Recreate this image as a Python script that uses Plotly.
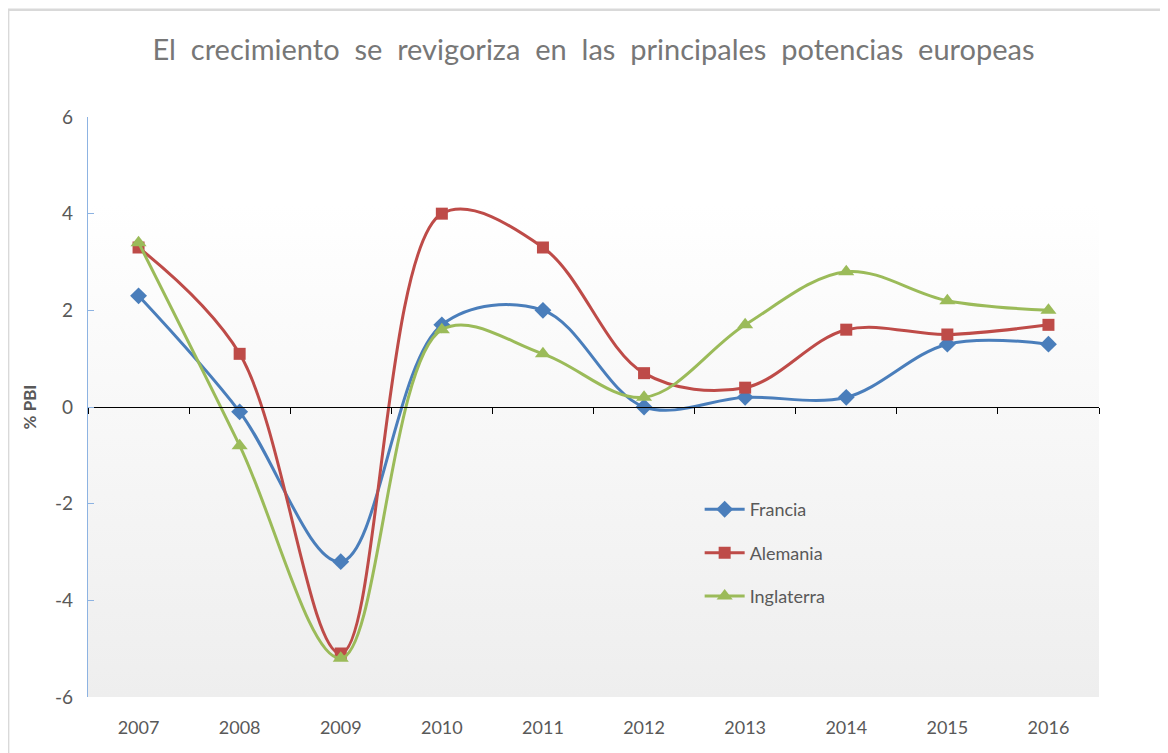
import base64
import plotly.graph_objects as go

years = ["2007", "2008", "2009", "2010", "2011", "2012", "2013", "2014", "2015", "2016"]
francia = [2.3, -0.1, -3.2, 1.7, 2.0, 0.0, 0.2, 0.2, 1.3, 1.3]
alemania = [3.3, 1.1, -5.1, 4.0, 3.3, 0.7, 0.4, 1.6, 1.5, 1.7]
inglaterra = [3.4, -0.8, -5.2, 1.6, 1.1, 0.2, 1.7, 2.8, 2.2, 2.0]

title_words = ["El", "crecimiento", "se", "revigoriza", "en", "las", "principales", "potencias", "europeas"]
y_title = "% PBI"
y_ticks = [-6, -4, -2, 0, 2, 4, 6]

series = [
    ("Francia", francia, "#4A7EBB", "diamond", 13),
    ("Alemania", alemania, "#BE4B48", "square", 12),
    ("Inglaterra", inglaterra, "#9BBB59", "triangle-up", 14),
]

FONT = "Lato, 'Open Sans', sans-serif"
GRAY = "#595959"

fig = go.Figure()
for name, vals, color, sym, size in series:
    fig.add_trace(go.Scatter(
        x=years, y=vals, name=name, mode="lines+markers",
        line=dict(color=color, width=3, shape="spline", smoothing=1.0),
        marker=dict(symbol=sym, size=size, color=color),
        legendgroup=name,
    ))

# dummy trace to materialise the zero-level axis carrying the tick marks
fig.add_trace(go.Scatter(x=[], y=[], xaxis="x2", showlegend=False, hoverinfo="skip"))

svg = (
    '<svg xmlns="http://www.w3.org/2000/svg" width="100" height="100" preserveAspectRatio="none">'
    '<defs><linearGradient id="g" x1="0" y1="0" x2="0" y2="1">'
    '<stop offset="0" stop-color="#FFFFFF"/>'
    '<stop offset="0.15" stop-color="#FFFFFF"/>'
    '<stop offset="1" stop-color="#EEEEEE"/>'
    '</linearGradient></defs>'
    '<rect width="100" height="100" fill="url(#g)"/></svg>'
)
svg_uri = "data:image/svg+xml;base64," + base64.b64encode(svg.encode()).decode()

n = len(years)
fig.update_layout(
    width=1168, height=753,
    margin=dict(l=80, r=77, t=109, b=64),
    paper_bgcolor="white",
    plot_bgcolor="rgba(0,0,0,0)",
    font=dict(family=FONT, color=GRAY),
    title=dict(
        text=" \u00a0".join(title_words), x=0.5, xref="paper", xanchor="center",
        y=0.944, yanchor="middle",
        font=dict(family=FONT, size=29, color="#777777"),
    ),
    images=[dict(
        source=svg_uri, xref="paper", yref="paper", x=0, y=1,
        sizex=1, sizey=1, sizing="stretch", layer="below",
        xanchor="left", yanchor="top",
    )],
    xaxis=dict(
        type="category", range=[-0.5, n - 0.5],
        showline=False, ticks="", showgrid=False, zeroline=False,
        tickfont=dict(size=18, color=GRAY, family=FONT),
        ticklabelstandoff=18,
    ),
    xaxis2=dict(
        overlaying="x", anchor="free", position=0.5, type="linear",
        range=[-0.5, n - 0.5],
        tickvals=[i - 0.5 for i in range(n + 1)],
        showticklabels=False, ticks="outside", ticklen=6, tickcolor="#000000",
        tickwidth=1.3,
        showline=True, linecolor="#000000", linewidth=1.3,
        showgrid=False, zeroline=False,
    ),
    yaxis=dict(
        range=[-6, 6], tickvals=y_ticks, ticktext=[str(v) for v in y_ticks],
        showgrid=False, zeroline=False,
        showline=True, linecolor="#8DB3E2", linewidth=1.3,
        ticks="inside", ticklen=6, tickcolor="#8DB3E2",
        tickfont=dict(size=19, color=GRAY, family=FONT),
        ticklabelstandoff=10,
        title=dict(text="<b>" + y_title + "</b>", font=dict(size=17, color=GRAY, family=FONT), standoff=14),
    ),
    legend=dict(
        x=0.605, y=0.355, xanchor="left", yanchor="top",
        bgcolor="rgba(0,0,0,0)", font=dict(size=18, color=GRAY, family=FONT),
        tracegroupgap=17, itemwidth=40,
    ),
    shapes=[dict(
        type="rect", xref="paper", yref="paper",
        x0=-0.079, x1=1.07, y0=-0.12, y1=1.185,
        line=dict(color="#D9D9D9", width=2.5), fillcolor="rgba(0,0,0,0)", layer="below",
    )],
    showlegend=True,
)

fig.write_html("out.html")
